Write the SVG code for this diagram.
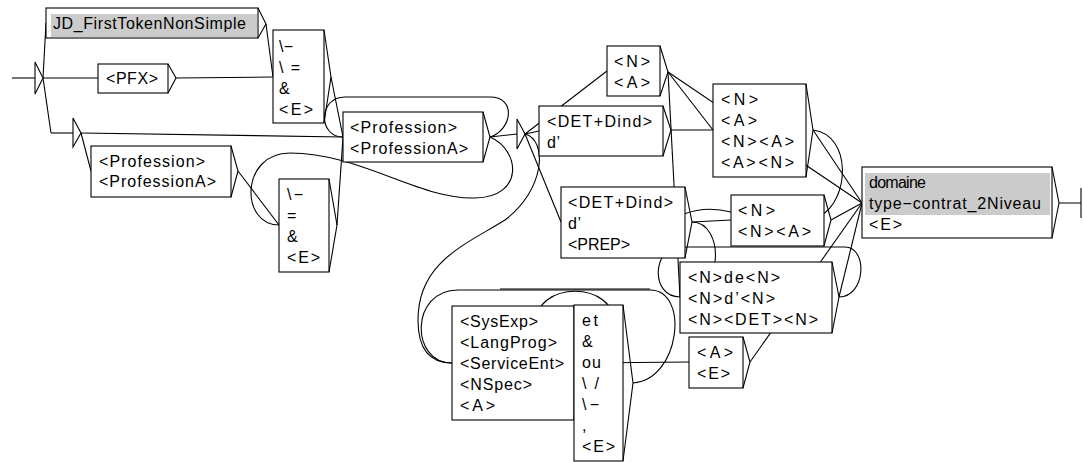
<svg xmlns="http://www.w3.org/2000/svg" width="1083" height="462" viewBox="0 0 1083 462">
<style>
  .c { fill: none; stroke: #000; stroke-width: 1.1; }
  .box { fill: #fff; stroke: #000; stroke-width: 1.1; }
  .arr { fill: none; stroke: #000; stroke-width: 1.1; }
  .hl { fill: #cbcbcb; stroke: none; }
  .state { fill: #fff; stroke: #000; stroke-width: 1.1; }
  text { font-family: "Liberation Sans", Arial, sans-serif; font-size: 16px; fill: #000; }
</style>
<rect width="1083" height="462" fill="#fff"/>

<!-- transitions -->
<g id="connectors">
  <path class="c" d="M12,78 L35,78"/>
  <path class="c" d="M43,78 L46,23"/>
  <path class="c" d="M43,78 L98,78"/>
  <path class="c" d="M43,78 L51,133"/>
  <path class="c" d="M266,24 L273,77"/>
  <path class="c" d="M176,78 L273,77"/>
  <path class="c" d="M331,77 L343,137"/>
  <path class="c" d="M81,133 L343,137"/>
  <path class="c" d="M81,133 L91,171"/>
  <path class="c" d="M238,171 L279,225"/>
  <path class="c" d="M337,225 L343,137"/>
  <!-- loop on <Profession> -->
  <path class="c" d="M490,137 C512,130 517,97 490,97 L345,97 C318,97 318,137 343,137"/>
  <!-- back to the lower separator box -->
  <path class="c" d="M490,137 C520,150 525,197 475,198 C420,200 360,153 290,153 C240,153 240,225 279,225"/>
  <path class="c" d="M490,137 L517,134"/>
  <path class="c" d="M525,134 L539,131"/>
  <path class="c" d="M525,134 L561,222"/>
  <path class="c" d="M525,134 L607,71"/>
  <path class="c" d="M525,134 C548,140 545,190 505,220 C465,245 418,262 418,320 C418,350 430,363 452,363"/>
  <path class="c" d="M668,72 L713,130"/>
  <path class="c" d="M668,72 L862,203"/>
  <path class="c" d="M668,72 L680,297"/>
  <path class="c" d="M671,130 L713,130"/>
  <path class="c" d="M813,130 L862,203"/>
  <path class="c" d="M813,130 C852,135 850,200 820,216 C790,232 760,212 731,212 C715,208 700,208 684,214"/>
  <path class="c" d="M692,222 L731,220"/>
  <path class="c" d="M692,222 C725,222 725,297 680,297"/>
  <path class="c" d="M839,297 C866,297 868,247 845,247 L680,247 C652,247 650,297 680,297"/>
  <path class="c" d="M831,220 L862,203"/>
  <path class="c" d="M839,297 L862,203"/>
  <path class="c" d="M750,362 L862,203"/>
  <path class="c" d="M582,363 L689,362"/>
  <path class="c" d="M633,383 C680,380 690,290 650,290 L458,290 C410,290 410,363 452,363"/>
  <path class="c" d="M500,289 L650,289"/>
  <path class="c" d="M535,325 C535,280 615,280 615,325"/>
  <path class="c" d="M1059,203 L1081,203 M1081,188 L1081,218"/>
</g>

<g id="initial">
  <polygon class="state" points="35,62 43,78 35,94"/>
</g>

<g id="n-jd">
  <rect class="box" x="46" y="8" width="212" height="30"/>
  <rect class="hl" x="51" y="14" width="206" height="23"/>
  <polyline class="arr" points="258,8 266,24 258,38"/>
  <text x="53" y="29" textLength="193" lengthAdjust="spacing">JD_FirstTokenNonSimple</text>
</g>

<g id="n-pfx">
  <rect class="box" x="98" y="64" width="70" height="29"/>
  <polyline class="arr" points="168,64 176,78 168,93"/>
  <text x="106" y="84" textLength="52" lengthAdjust="spacing">&lt;PFX&gt;</text>
</g>

<g id="n-sep1">
  <rect class="box" x="273" y="30" width="51" height="93"/>
  <polyline class="arr" points="324,30 331,77 324,123"/>
  <text x="279" y="52" textLength="14" lengthAdjust="spacing">\−</text>
  <text x="279" y="73" textLength="21" lengthAdjust="spacing">\=</text>
  <text x="279" y="94">&amp;</text>
  <text x="279" y="115" textLength="34" lengthAdjust="spacing">&lt;E&gt;</text>
</g>

<g id="n-eps1">
  <path class="c" d="M51,133 L73,133"/>
  <polygon class="state" points="73,118 81,133 73,147"/>
</g>

<g id="n-prof2">
  <rect class="box" x="91" y="146" width="140" height="51"/>
  <polyline class="arr" points="231,146 238,171 231,197"/>
  <text x="99" y="167" textLength="106" lengthAdjust="spacing">&lt;Profession&gt;</text>
  <text x="99" y="187" textLength="117" lengthAdjust="spacing">&lt;ProfessionA&gt;</text>
</g>

<g id="n-sep2">
  <rect class="box" x="279" y="179" width="50" height="93"/>
  <polyline class="arr" points="329,179 337,225 329,272"/>
  <text x="287" y="200" textLength="16" lengthAdjust="spacing">\−</text>
  <text x="287" y="221">=</text>
  <text x="287" y="242">&amp;</text>
  <text x="287" y="263" textLength="33" lengthAdjust="spacing">&lt;E&gt;</text>
</g>

<g id="n-prof1">
  <rect class="box" x="343" y="112" width="140" height="50"/>
  <polyline class="arr" points="483,112 490,137 483,162"/>
  <text x="350" y="133" textLength="107" lengthAdjust="spacing">&lt;Profession&gt;</text>
  <text x="350" y="154" textLength="118" lengthAdjust="spacing">&lt;ProfessionA&gt;</text>
</g>

<g id="n-eps2">
  <polygon class="state" points="517,119 525,134 517,149"/>
</g>

<g id="n-na">
  <rect class="box" x="607" y="46" width="53" height="50"/>
  <polyline class="arr" points="660,46 668,72 660,96"/>
  <text x="614" y="67" textLength="36" lengthAdjust="spacing">&lt;N&gt;</text>
  <text x="614" y="88" textLength="36" lengthAdjust="spacing">&lt;A&gt;</text>
</g>

<g id="n-det1">
  <rect class="box" x="539" y="106" width="124" height="50"/>
  <polyline class="arr" points="663,106 671,130 663,156"/>
  <text x="547" y="127" textLength="105" lengthAdjust="spacing">&lt;DET+Dind&gt;</text>
  <text x="547" y="148" textLength="13" lengthAdjust="spacing">d’</text>
</g>

<g id="n-na4">
  <rect class="box" x="713" y="84" width="93" height="93"/>
  <polyline class="arr" points="806,84 813,130 806,177"/>
  <text x="721" y="105" textLength="37" lengthAdjust="spacing">&lt;N&gt;</text>
  <text x="721" y="126" textLength="36" lengthAdjust="spacing">&lt;A&gt;</text>
  <text x="721" y="147" textLength="73" lengthAdjust="spacing">&lt;N&gt;&lt;A&gt;</text>
  <text x="721" y="168" textLength="73" lengthAdjust="spacing">&lt;A&gt;&lt;N&gt;</text>
</g>

<g id="n-det2">
  <rect class="box" x="561" y="187" width="124" height="71"/>
  <polyline class="arr" points="685,187 692,222 685,258"/>
  <text x="568" y="208" textLength="105" lengthAdjust="spacing">&lt;DET+Dind&gt;</text>
  <text x="568" y="229" textLength="13" lengthAdjust="spacing">d’</text>
  <text x="568" y="250" textLength="62" lengthAdjust="spacing">&lt;PREP&gt;</text>
</g>

<g id="n-nn">
  <rect class="box" x="731" y="195" width="93" height="51"/>
  <polyline class="arr" points="824,195 831,220 824,246"/>
  <text x="738" y="216" textLength="37" lengthAdjust="spacing">&lt;N&gt;</text>
  <text x="738" y="237" textLength="73" lengthAdjust="spacing">&lt;N&gt;&lt;A&gt;</text>
</g>

<g id="n-nden">
  <rect class="box" x="680" y="262" width="152" height="71"/>
  <polyline class="arr" points="832,262 839,297 832,333"/>
  <text x="688" y="283" textLength="92" lengthAdjust="spacing">&lt;N&gt;de&lt;N&gt;</text>
  <text x="688" y="304" textLength="87" lengthAdjust="spacing">&lt;N&gt;d’&lt;N&gt;</text>
  <text x="688" y="325" textLength="130" lengthAdjust="spacing">&lt;N&gt;&lt;DET&gt;&lt;N&gt;</text>
</g>

<g id="n-ae">
  <rect class="box" x="689" y="337" width="54" height="51"/>
  <polyline class="arr" points="743,337 750,362 743,388"/>
  <text x="697" y="358" textLength="36" lengthAdjust="spacing">&lt;A&gt;</text>
  <text x="697" y="379" textLength="33" lengthAdjust="spacing">&lt;E&gt;</text>
</g>

<g id="n-sys">
  <rect class="box" x="452" y="306" width="122" height="114"/>
  <polyline class="arr" points="574,306 582,363 574,420"/>
  <text x="460" y="327" textLength="78" lengthAdjust="spacing">&lt;SysExp&gt;</text>
  <text x="460" y="348" textLength="97" lengthAdjust="spacing">&lt;LangProg&gt;</text>
  <text x="460" y="369" textLength="104" lengthAdjust="spacing">&lt;ServiceEnt&gt;</text>
  <text x="460" y="390" textLength="72" lengthAdjust="spacing">&lt;NSpec&gt;</text>
  <text x="460" y="411" textLength="35" lengthAdjust="spacing">&lt;A&gt;</text>
</g>

<g id="n-conj">
  <rect class="box" x="574" y="305" width="49" height="156"/>
  <polyline class="arr" points="623,305 633,383 623,461"/>
  <text x="582" y="326" textLength="16" lengthAdjust="spacing">et</text>
  <text x="582" y="347">&amp;</text>
  <text x="582" y="368" textLength="19" lengthAdjust="spacing">ou</text>
  <text x="582" y="389" textLength="17" lengthAdjust="spacing">\/</text>
  <text x="582" y="410" textLength="17" lengthAdjust="spacing">\−</text>
  <text x="582" y="431">,</text>
  <text x="582" y="452" textLength="33" lengthAdjust="spacing">&lt;E&gt;</text>
</g>

<g id="n-out">
  <rect class="box" x="862" y="167" width="190" height="71"/>
  <rect class="hl" x="865" y="173" width="185" height="42"/>
  <polyline class="arr" points="1052,167 1059,203 1052,238"/>
  <text x="869" y="188" textLength="57" lengthAdjust="spacing">domaine</text>
  <text x="869" y="209" textLength="172" lengthAdjust="spacing">type−contrat_2Niveau</text>
  <text x="869" y="230" textLength="33" lengthAdjust="spacing">&lt;E&gt;</text>
</g>
</svg>
